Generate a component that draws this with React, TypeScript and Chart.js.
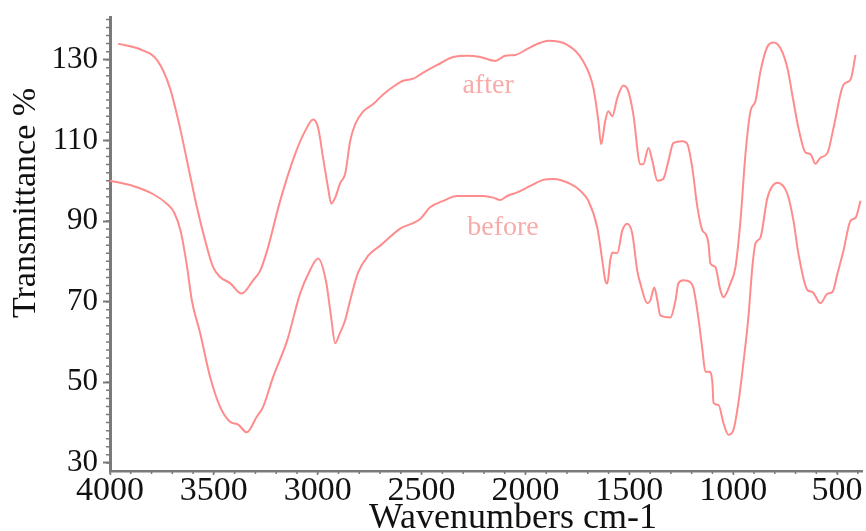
import React, { useEffect, useRef } from "react";
import { Chart, registerables } from "chart.js";

Chart.register(...registerables);

// ---- data ----
const afterWavenumbers = [3961,3855,3769,3711,3663,3629,3581,3542,3504,3470,3422,3366,3311,3277,3244,3181,3109,3061,3022,2998,2974,2950,2935,2916,2892,2868,2844,2820,2781,2733,2685,2637,2589,2540,2492,2425,2348,2280,2218,2145,2097,2049,1991,1929,1890,1799,1722,1673,1649,1636,1616,1601,1582,1558,1529,1505,1481,1447,1433,1408,1389,1365,1336,1312,1288,1245,1221,1197,1172,1148,1134,1119,1110,1086,1062,1047,1013,989,965,941,917,893,869,835,806,773,739,710,686,652,628,604,580,546,517,469,435,411];
const afterTransmittance = [134.0,132.6,129.6,122.9,113.1,104.9,93.3,85.2,78.6,76.1,74.6,72.0,75.3,77.7,82.6,95.0,106.6,112.3,115.2,113.1,105.6,98.2,94.3,95.8,99.4,101.7,109.8,114.0,117.2,119.0,121.4,123.3,124.8,125.3,126.8,128.7,130.7,131.0,130.7,129.7,131.0,131.2,132.7,134.2,134.7,133.7,129.6,123.0,114.8,109.0,114.8,117.2,116.0,120.5,123.6,122.2,116.5,104.1,104.1,108.1,104.9,100.0,100.5,104.9,109.3,109.8,109.1,103.2,93.3,87.6,86.9,84.4,79.5,78.6,72.9,71.1,74.6,78.6,90.1,106.6,117.2,119.7,127.1,133.3,134.3,132.9,127.9,119.7,113.1,107.0,106.6,104.2,105.7,106.9,113.1,123.8,125.1,131.2];

const beforeWavenumbers = [4000,3889,3793,3725,3690,3660,3630,3606,3566,3518,3470,3422,3383,3342,3293,3263,3215,3147,3085,3040,2998,2960,2935,2916,2895,2868,2844,2806,2757,2699,2603,2507,2459,2396,2329,2266,2203,2155,2121,2088,2040,1977,1914,1866,1784,1736,1697,1654,1630,1616,1606,1592,1582,1558,1534,1510,1486,1462,1447,1413,1399,1380,1365,1351,1302,1278,1264,1240,1206,1192,1168,1148,1134,1115,1100,1095,1071,1047,1023,999,975,951,927,908,893,869,835,787,739,710,686,643,619,580,546,522,498,469,435,411,387];
const beforeTransmittance = [100.0,98.7,96.7,94.2,92.0,87.5,79.0,70.3,62.2,51.3,43.9,40.2,39.5,37.6,41.5,43.9,51.3,60.4,72.0,77.5,80.7,75.0,66.0,59.7,62.0,65.4,70.3,77.2,81.4,83.9,88.1,90.5,93.4,95.0,96.2,96.2,96.2,95.8,95.2,96.2,97.1,98.7,100.2,100.4,99.2,97.5,95.0,88.3,80.2,75.3,74.5,80.2,82.2,82.0,87.6,89.3,86.9,77.7,74.5,69.6,70.3,73.5,70.3,66.6,66.1,70.3,74.5,75.3,74.8,73.5,66.1,58.0,52.6,52.6,49.8,44.9,44.4,39.9,37.0,38.2,44.9,54.8,66.1,78.5,84.4,85.9,95.8,99.5,96.7,90.1,81.9,72.9,72.4,69.6,72.0,72.4,77.0,82.7,90.1,90.8,95.0];

const xTickValues = [4000, 3500, 3000, 2500, 2000, 1500, 1000, 500];
const yTickValues = [30, 50, 70, 90, 110, 130];

const seriesLabels = ["after", "before"];
const labelPositions = [
  { x: 2180, y: 123.5 },
  { x: 2108, y: 88.3 },
];

const xTitle = "Wavenumbers cm-1";
const yTitle = "Transmittance %";

const LINE_COLOR = "#ff8c8c";
const TEXT_COLOR = "#f7abab";
const AXIS_COLOR = "#7a7a7a";
const FONT = "'Liberation Serif', 'DejaVu Serif', serif";

const minorTicksPlugin = {
  id: "minorTicks",
  afterDraw(chart: any) {
    const { ctx, scales } = chart;
    const x = scales.x;
    const y = scales.y;
    ctx.save();
    ctx.strokeStyle = AXIS_COLOR;
    ctx.lineWidth = 1.5;
    ctx.beginPath();
    for (let v = 400; v <= 4000; v += 100) {
      const px = x.getPixelForValue(v);
      ctx.moveTo(px, y.bottom);
      ctx.lineTo(px, y.bottom + 3);
    }
    for (let v = 30; v <= 140; v += 2) {
      const py = y.getPixelForValue(v);
      ctx.moveTo(x.left, py);
      ctx.lineTo(x.left - 4, py);
    }
    ctx.stroke();
    ctx.restore();
  },
};

const titlesPlugin = {
  id: "axisTitles",
  afterDraw(chart: any) {
    const { ctx } = chart;
    ctx.save();
    ctx.fillStyle = "#111";
    ctx.textAlign = "center";
    ctx.textBaseline = "alphabetic";
    ctx.font = `36px ${FONT}`;
    ctx.fillText(xTitle, 513, 528);
    ctx.translate(35, 203);
    ctx.rotate(-Math.PI / 2);
    ctx.font = `34px ${FONT}`;
    ctx.fillText(yTitle, 0, 0);
    ctx.restore();
  },
};

const seriesTextPlugin = {
  id: "seriesText",
  afterDatasetsDraw(chart: any) {
    const { ctx, scales } = chart;
    ctx.save();
    ctx.fillStyle = TEXT_COLOR;
    ctx.font = `28px ${FONT}`;
    ctx.textAlign = "center";
    ctx.textBaseline = "middle";
    seriesLabels.forEach((t, i) => {
      const p = labelPositions[i];
      ctx.fillText(t, scales.x.getPixelForValue(p.x), scales.y.getPixelForValue(p.y));
    });
    ctx.restore();
  },
};

export default function App() {
  const canvasRef = useRef<HTMLCanvasElement | null>(null);

  useEffect(() => {
    if (!canvasRef.current) return;
    const toPoints = (xs: number[], ys: number[]) => xs.map((x, i) => ({ x, y: ys[i] }));
    const chart = new Chart(canvasRef.current, {
      type: "line",
      data: {
        datasets: [
          {
            label: seriesLabels[0],
            data: toPoints(afterWavenumbers, afterTransmittance),
            borderColor: LINE_COLOR,
            borderWidth: 2,
            pointRadius: 0,
            cubicInterpolationMode: "monotone",
            fill: false,
          },
          {
            label: seriesLabels[1],
            data: toPoints(beforeWavenumbers, beforeTransmittance),
            borderColor: LINE_COLOR,
            borderWidth: 2,
            pointRadius: 0,
            cubicInterpolationMode: "monotone",
            fill: false,
          },
        ],
      },
      options: {
        animation: false,
        responsive: true,
        maintainAspectRatio: false,
        layout: { padding: { top: 16, right: 4, left: 0, bottom: 0 } },
        plugins: {
          legend: { display: false },
          tooltip: { enabled: false },
        },
        scales: {
          x: {
            type: "linear",
            reverse: true,
            min: 380,
            max: 4000,
            afterBuildTicks: (scale: any) => {
              scale.ticks = xTickValues.map((v) => ({ value: v }));
            },
            afterFit: (scale: any) => {
              scale.height = 60;
            },
            grid: { display: true, drawOnChartArea: false, drawTicks: true, tickLength: 4, tickColor: AXIS_COLOR, tickWidth: 1.5 },
            border: { display: true, color: AXIS_COLOR, width: 2.5 },
            ticks: {
              color: "#111",
              padding: 2,
              maxRotation: 0,
              autoSkip: false,
              font: { family: FONT, size: 34, lineHeight: 0.8 },
              callback: (v: any) => String(v),
            },
            title: { display: false },
          },
          y: {
            type: "linear",
            min: 28,
            max: 140.5,
            afterBuildTicks: (scale: any) => {
              scale.ticks = yTickValues.map((v) => ({ value: v }));
            },
            afterFit: (scale: any) => {
              scale.width = 110;
            },
            grid: { display: true, drawOnChartArea: false, drawTicks: true, tickLength: 7, tickColor: AXIS_COLOR, tickWidth: 2 },
            border: { display: true, color: AXIS_COLOR, width: 3 },
            ticks: {
              color: "#111",
              padding: 5,
              autoSkip: false,
              font: { family: FONT, size: 31, lineHeight: 0.8 },
              callback: (v: any) => String(v),
            },
            title: { display: false },
          },
        },
      },
      plugins: [minorTicksPlugin, seriesTextPlugin, titlesPlugin],
    });
    return () => chart.destroy();
  }, []);

  return (
    <div style={{ position: "fixed", left: 0, top: 0, width: 866, height: 531, background: "#fff" }}>
      <canvas ref={canvasRef} />
    </div>
  );
}
